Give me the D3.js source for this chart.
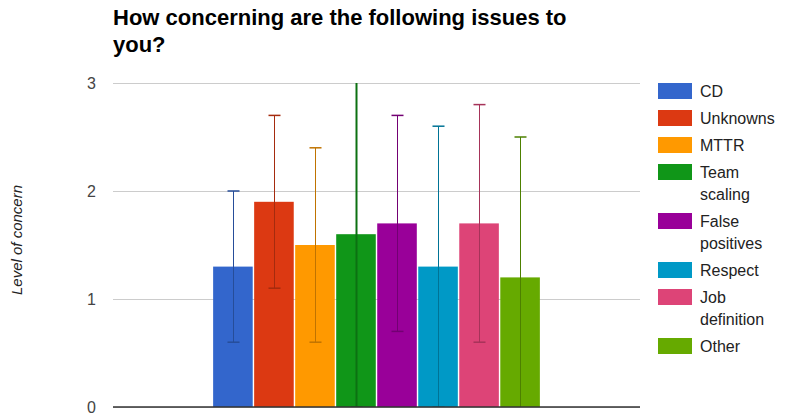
<!DOCTYPE html>
<html>
<head>
<meta charset="utf-8">
<script src="https://cdn.jsdelivr.net/npm/d3@7"></script>
<style>
    body { margin: 0; background: #fff; }
    text { font-family: Arial, "Liberation Sans", sans-serif; }
</style>
</head>
<body>
<div id="canvas"></div>
<script>
"use strict"

/* ************ data ***** */
let categories = ["CD", "Unknowns", "MTTR", "Team scaling", "False positives", "Respect", "Job definition", "Other"];
let legendLines = [["CD"], ["Unknowns"], ["MTTR"], ["Team", "scaling"], ["False", "positives"], ["Respect"], ["Job", "definition"], ["Other"]];
let means = [1.3, 1.9, 1.5, 1.6, 1.7, 1.3, 1.7, 1.2];
let lows = [0.6, 1.1, 0.6, 0.0, 0.7, 0.0, 0.6, -0.1];
let highs = [2.0, 2.7, 2.4, 3.2, 2.7, 2.6, 2.8, 2.5];
let colors = ["#3366cc", "#dc3912", "#ff9900", "#109618", "#990099", "#0099c6", "#dd4477", "#66aa00"];
let yTicks = [0, 1, 2, 3];

let width = 800;
let height = 418;
let plot = { left: 113, right: 640, top: 83, bottom: 407 };

let drawing = d3.select("#canvas")
    .append("svg")
    .attr("width", width)
    .attr("height", height);

/* ************ scales ***** */
let y = d3.scaleLinear()
    .domain([0, 3])
    .range([plot.bottom, plot.top]);

let groupWidth = (plot.right - plot.left) * 0.62;
let groupLeft = (plot.left + plot.right) / 2 - groupWidth / 2;
let x = d3.scaleBand()
    .domain(categories)
    .range([groupLeft, groupLeft + groupWidth])
    .paddingInner(0.035);

/* ************ title ***** */
let title = drawing.append("text")
    .attr("x", plot.left)
    .attr("y", 25)
    .attr("font-size", 22)
    .attr("font-weight", "bold")
    .attr("fill", "#000");
title.append("tspan").attr("x", plot.left).text("How concerning are the following issues to");
title.append("tspan").attr("x", plot.left).attr("dy", 27).text("you?");

/* ************ gridlines and tick labels ***** */
let yAxis = d3.axisLeft(y)
    .tickValues(yTicks)
    .tickFormat(d3.format("d"))
    .tickSize(-(plot.right - plot.left))
    .tickPadding(17);

let axisG = drawing.append("g")
    .attr("transform", `translate(${plot.left},0)`)
    .call(yAxis);
axisG.select(".domain").remove();
axisG.selectAll(".tick line")
    .attr("stroke", "#cccccc")
    .attr("stroke-width", 1);
axisG.selectAll(".tick text")
    .attr("font-size", 16)
    .attr("fill", "#444");

drawing.append("text")
    .attr("transform", `translate(22,${(plot.top + plot.bottom) / 2 - 5}) rotate(-90)`)
    .attr("text-anchor", "middle")
    .attr("font-size", 15)
    .attr("font-style", "italic")
    .attr("fill", "#222")
    .text("Level of concern");

/* ************ bars ***** */
drawing.append("defs").append("clipPath")
    .attr("id", "plotclip")
    .append("rect")
    .attr("x", plot.left)
    .attr("y", plot.top)
    .attr("width", plot.right - plot.left)
    .attr("height", plot.bottom - plot.top);

drawing.append("g")
    .selectAll("rect")
    .data(categories)
    .join("rect")
    .attr("x", d => x(d))
    .attr("y", (d, i) => y(means[i]))
    .attr("width", x.bandwidth())
    .attr("height", (d, i) => y(0) - y(means[i]))
    .attr("fill", (d, i) => colors[i]);

/* ************ error bars ***** */
let errG = drawing.append("g").attr("clip-path", "url(#plotclip)");
let capHalf = 6;

categories.forEach(function (c, i) {
    let cx = Math.round(x(c) + x.bandwidth() / 2) + 0.5;
    let col = d3.color(colors[i]).darker(0.8).formatHex();
    let lw = (c == "Team scaling") ? 2 : 1;
    errG.append("line")
        .attr("x1", cx).attr("x2", cx)
        .attr("y1", y(lows[i])).attr("y2", y(highs[i]))
        .attr("stroke", col)
        .attr("stroke-width", lw);
    [lows[i], highs[i]].forEach(function (v) {
        errG.append("line")
            .attr("x1", cx - capHalf).attr("x2", cx + capHalf)
            .attr("y1", y(v)).attr("y2", y(v))
            .attr("stroke", col)
            .attr("stroke-width", 1.5);
    });
});

/* ************ baseline ***** */
drawing.append("line")
    .attr("x1", plot.left).attr("x2", plot.right)
    .attr("y1", y(0)).attr("y2", y(0))
    .attr("stroke", "#333")
    .attr("stroke-width", 1.5);

/* ************ legend ***** */
let legend = drawing.append("g");
let rowY = 83;
legendLines.forEach(function (lines, i) {
    let item = legend.append("g").attr("transform", `translate(658,${rowY})`);
    item.append("rect")
        .attr("width", 34)
        .attr("height", 16)
        .attr("fill", colors[i]);
    lines.forEach(function (t, k) {
        item.append("text")
            .attr("x", 42)
            .attr("y", 14 + k * 22)
            .attr("font-size", 16)
            .attr("fill", "#222")
            .text(t);
    });
    rowY += 27 + (lines.length - 1) * 22;
});
</script>
</body>
</html>
